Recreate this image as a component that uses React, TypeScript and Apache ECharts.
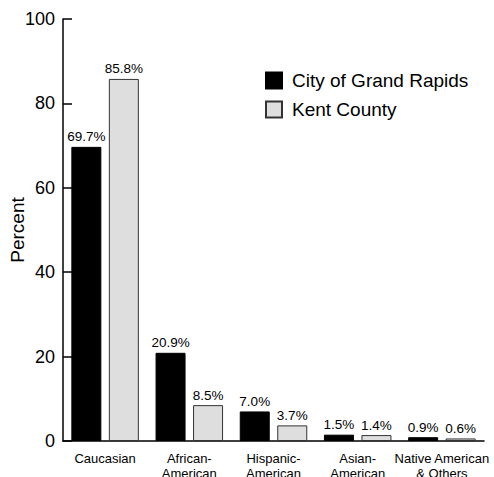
import React, { useEffect, useRef } from "react";
import * as echarts from "echarts";

const categories = [
  "Caucasian",
  "African-\nAmerican",
  "Hispanic-\nAmerican",
  "Asian-\nAmerican",
  "Native American\n& Others",
];
const cityValues = [69.7, 20.9, 7.0, 1.5, 0.9];
const kentValues = [85.8, 8.5, 3.7, 1.4, 0.6];
const seriesNames = ["City of Grand Rapids", "Kent County"];
const yTicks = { min: 0, max: 100, interval: 20 };

const FONT = "'Liberation Sans', Arial, sans-serif";

export default function App() {
  const ref = useRef<HTMLDivElement>(null);
  useEffect(() => {
    if (!ref.current) return;
    const chart = echarts.init(ref.current, undefined, { renderer: "svg" });
    const label = {
      show: true,
      position: "top",
      distance: 3,
      color: "#000",
      fontFamily: FONT,
      fontSize: 13.5,
      formatter: (p: any) => Number(p.value).toFixed(1) + "%",
    };
    chart.setOption({
      animation: false,
      backgroundColor: "#fff",
      textStyle: { fontFamily: FONT },
      grid: {
        left: 63,
        right: 10,
        top: 19,
        bottom: 36,
        containLabel: false,
        outerBoundsMode: "none",
      },
      legend: {
        orient: "vertical",
        left: 265,
        top: 71,
        itemWidth: 16,
        itemHeight: 16,
        itemGap: 10,
        padding: 0,
        icon: "rect",
        textStyle: { fontSize: 19, color: "#000", fontFamily: FONT, padding: [0, 0, 0, 5] },
        data: seriesNames,
      },
      xAxis: {
        type: "category",
        data: categories,
        axisLine: { lineStyle: { color: "#000", width: 1.5 } },
        axisTick: { inside: true, length: 10, lineStyle: { color: "#000", width: 1.5 } },
        axisLabel: {
          interval: 0,
          color: "#000",
          fontSize: 13,
          lineHeight: 15,
          margin: 10,
          fontFamily: FONT,
        },
      },
      yAxis: {
        type: "value",
        min: yTicks.min,
        max: yTicks.max,
        interval: yTicks.interval,
        name: "Percent",
        nameLocation: "middle",
        nameGap: 36,
        nameMoveOverlap: false,
        nameTextStyle: { fontSize: 19, color: "#000", fontFamily: FONT },
        splitLine: { show: false },
        axisLine: { show: true, lineStyle: { color: "#000", width: 1.5 } },
        axisTick: { show: true, inside: true, length: 9, lineStyle: { color: "#000", width: 1.5 } },
        axisLabel: { color: "#000", fontSize: 18, margin: 8, fontFamily: FONT },
      },
      series: [
        {
          name: seriesNames[0],
          type: "bar",
          data: cityValues,
          barWidth: 30,
          barGap: "25%",
          itemStyle: { color: "#000", borderColor: "#000", borderWidth: 1 },
          label,
        },
        {
          name: seriesNames[1],
          type: "bar",
          data: kentValues,
          barWidth: 30,
          itemStyle: { color: "#dedede", borderColor: "#333", borderWidth: 1 },
          label,
        },
      ],
    });
    return () => chart.dispose();
  }, []);
  return (
    <div
      ref={ref}
      style={{ position: "fixed", left: 0, top: 0, width: 494, height: 477, background: "#fff" }}
    />
  );
}
